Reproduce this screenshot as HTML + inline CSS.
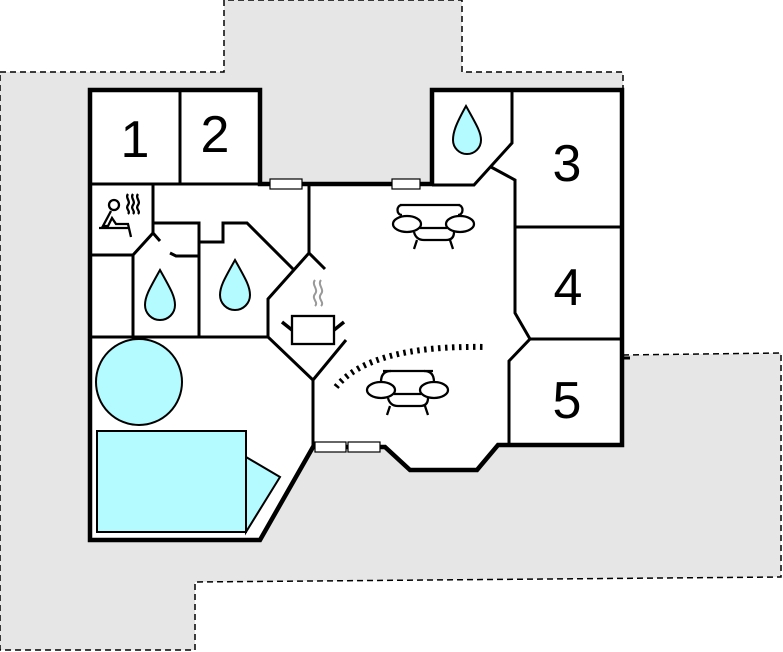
<!DOCTYPE html>
<html><head><style>html,body{margin:0;padding:0;background:#fff}svg{display:block}</style></head><body>
<svg width="783" height="652" viewBox="0 0 783 652" xmlns="http://www.w3.org/2000/svg">
<polygon points="0,72 224,72 224,0 462,0 462,72 623,72 623,355 781,353 781,577 195,582 195,650 0,650" fill="#e6e6e6" stroke="#000" stroke-width="1.5" stroke-dasharray="6,4"/>
<polygon points="90,90 260,90 260,184 432,184 432,90 622,90 622,445 498,445 477,470 410,470 385,447 313,447 260,540 90,540" fill="#fff"/>
<g fill="none" stroke="#000" stroke-width="3">
<line x1="180" y1="90" x2="180" y2="184"/>
<line x1="90" y1="184" x2="260" y2="184"/>
<polyline points="153,184 153,233 133,255 90,255"/>
<line x1="153" y1="233" x2="160" y2="241"/>
<line x1="133" y1="255" x2="133" y2="337"/>
<polyline points="170,253 176,256 199,256"/>
<polyline points="153,223 199,223 199,337"/>
<polyline points="199,242 223,242 223,223 247,223 293,269"/>
<polyline points="309,184 309,253 325,269"/>
<polyline points="309,253 268,299 268,337 313,380 313,447"/>
<line x1="90" y1="337" x2="268" y2="337"/>
<line x1="313" y1="380" x2="346" y2="340"/>
<polyline points="512,90 512,143 474,185 432,185"/>
<polyline points="491,167 515,180 515,313 530,339 509,361 509,445"/>
<line x1="515" y1="227" x2="622" y2="227"/>
<line x1="530" y1="339" x2="622" y2="339"/>
<line x1="622" y1="358" x2="630" y2="358"/>
</g>
<polygon points="90,90 260,90 260,184 432,184 432,90 622,90 622,445 498,445 477,470 410,470 385,447 313,447 260,540 90,540" fill="none" stroke="#000" stroke-width="4.5"/>
<g fill="#fff" stroke="#000" stroke-width="1.2">
<rect x="270" y="179" width="32" height="10"/><rect x="392" y="179" width="28" height="10"/>
<rect x="315" y="442" width="31" height="10"/><rect x="348" y="442" width="32" height="10"/>
</g>
<g fill="#b3fbff" stroke="#000" stroke-width="2">
<circle cx="139" cy="382" r="43"/>
<polygon points="246,457 280,477 246,532"/>
<rect x="97" y="431" width="149" height="101"/>
<path d="M160,270 C150,288 145,296 145,305 A15,15 0 0 0 175,305 C175,296 170,288 160,270Z"/>
<path d="M235,260 C225,278 220,286 220,295 A15,15 0 0 0 250,295 C250,286 245,278 235,260Z"/>
<path d="M466,106 C456,124 453,132 453,140 A14,14 0 0 0 481,140 C481,132 476,124 466,106Z"/>
</g>
<g fill="none" stroke="#000" stroke-width="2.3">
<circle cx="114" cy="205" r="5"/>
<polyline points="111,211 103,226 108,226 112,218 116,224 128,224 131,237"/>
<line x1="99" y1="228" x2="128" y2="228"/>
<path d="M128,194 c-3,4 3,7 0,11 c-3,4 3,6 0,9 M133,194 c-3,4 3,7 0,11 c-3,4 3,6 0,9 M138,194 c-3,4 3,7 0,11 c-3,4 3,6 0,9"/>
<rect x="292" y="316" width="42" height="28"/>
<line x1="282" y1="322" x2="292" y2="330" stroke-width="3.5"/><line x1="344" y1="322" x2="334" y2="330" stroke-width="3.5"/>
<path d="M400,205 h60 M402,205 c-6,0 -6,10 0,10 M458,205 c6,0 6,10 0,10"/>
<ellipse cx="407" cy="224" rx="14" ry="8"/><ellipse cx="460" cy="224" rx="14" ry="8"/>
<path d="M420,228 h27 M414,232 q2,8 10,8 h22 q8,0 8,-8 M417,240 l-3,9 M450,240 l3,9"/>
<path d="M383,371 h50" /><ellipse cx="381" cy="390" rx="14" ry="8"/><ellipse cx="434" cy="390" rx="14" ry="8"/>
<path d="M381,382 q0,-11 10,-11 M434,382 q0,-11 -10,-11 M394,394 h27 M388,398 q2,8 10,8 h22 q8,0 8,-8 M390,406 l-3,9 M425,406 l3,9"/>
</g>
<path d="M315,280 c-4,5 4,9 0,14 c-4,5 4,8 0,12 M321,280 c-4,5 4,9 0,14 c-4,5 4,8 0,12" fill="none" stroke="#999" stroke-width="2"/>
<path d="M336,387 Q370,345 485,347" fill="none" stroke="#000" stroke-width="6" stroke-dasharray="2.5,4.5"/>
<g font-family="Liberation Sans, sans-serif" font-size="52" text-anchor="middle">
<text x="135" y="157">1</text><text x="215" y="152">2</text>
<text x="567" y="181">3</text><text x="568" y="305">4</text><text x="567" y="418">5</text>
</g>
</svg>
</body></html>
